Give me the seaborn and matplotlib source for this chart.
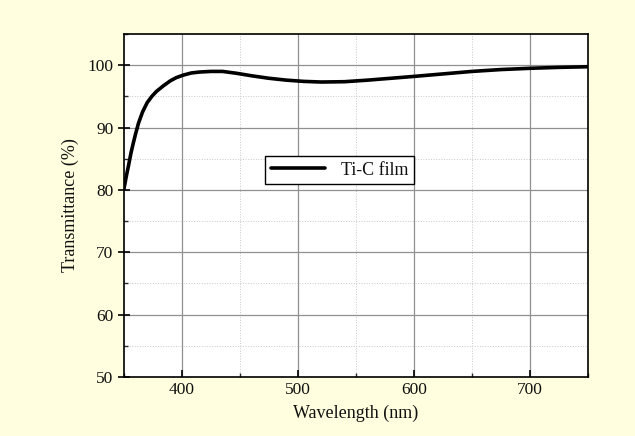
import numpy as np
import pandas as pd
import matplotlib
matplotlib.use("Agg")
import matplotlib.pyplot as plt
import seaborn as sns
from matplotlib.ticker import MultipleLocator

wavelength = [350, 352, 354, 356, 358, 360, 362.5, 366, 370, 374, 378, 384, 390,
              395, 401, 408, 415, 425, 435, 447, 460, 475, 490, 505, 520, 540,
              560, 580, 600, 625, 650, 675, 700, 725, 750]
transmittance = [80.2, 82.2, 84.0, 85.9, 87.5, 89.0, 90.7, 92.5, 94.0, 95.0, 95.8,
                 96.7, 97.5, 98.0, 98.4, 98.75, 98.9, 99.0, 99.0, 98.7, 98.3,
                 97.9, 97.6, 97.4, 97.3, 97.35, 97.6, 97.9, 98.2, 98.6, 99.0,
                 99.3, 99.5, 99.65, 99.75]
series_name = "Ti-C film"

df = pd.DataFrame({"Wavelength (nm)": wavelength, "Transmittance (%)": transmittance,
                   "series": series_name})

sns.set_style("ticks")
plt.rcParams['font.family'] = ['Liberation Serif', 'DejaVu Serif']

fig = plt.figure(figsize=(6.35, 4.36), dpi=100, facecolor='#FFFFE0')
ax = fig.add_axes([124/635, 1-377/436, 464/635, 343/436])
ax.set_facecolor('white')

sns.lineplot(data=df, x="Wavelength (nm)", y="Transmittance (%)", hue="series",
             palette=['black'], linewidth=2.6, ax=ax)

ax.set_xlim(350, 750)
ax.set_ylim(50, 105)
ax.xaxis.set_major_locator(MultipleLocator(100))
ax.xaxis.set_minor_locator(MultipleLocator(50))
ax.yaxis.set_major_locator(MultipleLocator(10))
ax.yaxis.set_minor_locator(MultipleLocator(5))
ax.grid(which='major', color='#909090', linewidth=0.9, linestyle='-')
ax.grid(which='minor', color='#c8c8c8', linewidth=0.7, linestyle=':')
ax.set_axisbelow(True)
for s in ax.spines.values():
    s.set_color('black')
    s.set_linewidth(1.2)
ax.tick_params(which='major', direction='in', length=5, width=1.2, labelsize=12.5,
               colors='black', labelcolor='#111111')
ax.tick_params(which='minor', direction='in', length=3, width=1.0)
ax.tick_params(axis='y', which='major', direction='inout', length=8)
ax.set_xlabel("Wavelength (nm)", fontsize=13, labelpad=5, color='#111111')
ax.set_ylabel("Transmittance (%)", fontsize=13, labelpad=6, color='#111111')

leg = ax.legend(loc='upper left', bbox_to_anchor=(0.285, 0.67), fontsize=13,
                frameon=True, fancybox=False, edgecolor='black', framealpha=1,
                handlelength=3.0, borderpad=0.3, handletextpad=0.9)
leg.get_frame().set_linewidth(1.0)
for t in leg.get_texts():
    t.set_color('#111111')

fig.savefig("out.png", dpi=100, facecolor=fig.get_facecolor())
